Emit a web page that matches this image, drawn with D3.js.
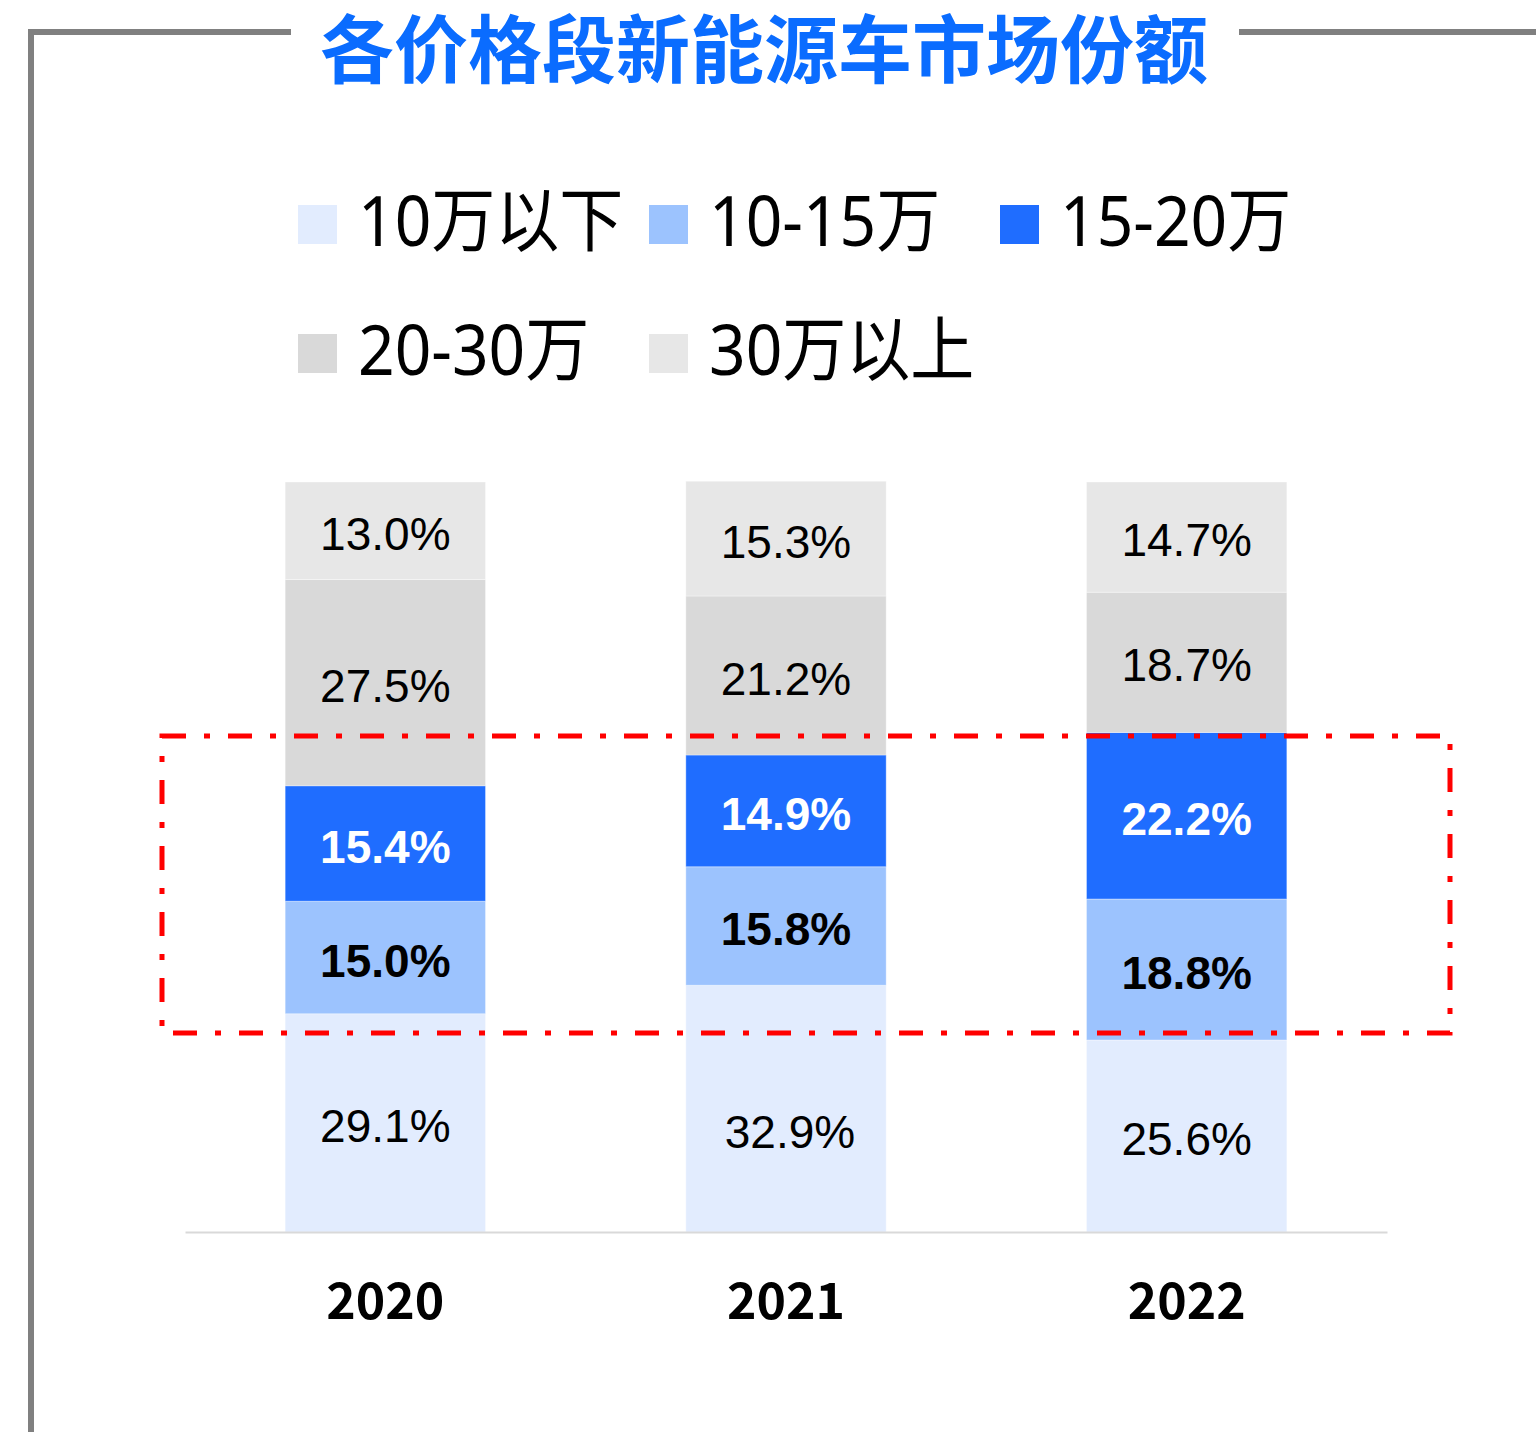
<!DOCTYPE html>
<html><head><meta charset="utf-8">
<script src="https://cdn.jsdelivr.net/npm/d3@7"></script>
<style>html,body{margin:0;padding:0;background:#fff;}svg{display:block;}</style>
</head><body>
<script>
const title = "各价格段新能源车市场份额";
const years = ["2020", "2021", "2022"];
const segments = ["10万以下", "10-15万", "15-20万", "20-30万", "30万以上"];
const share_below10 = [29.1, 32.9, 25.6];
const share_10to15 = [15.0, 15.8, 18.8];
const share_15to20 = [15.4, 14.9, 22.2];
const share_20to30 = [27.5, 21.2, 18.7];
const share_above30 = [13.0, 15.3, 14.7];
const colors = ["#e2ecfe", "#9cc3fe", "#1f6dff", "#d9d9d9", "#e7e7e7"];
const labelColors = ["#000", "#000", "#fff", "#000", "#000"];
const labelWeights = ["normal", "bold", "bold", "normal", "normal"];

const W = 1536, H = 1432;
const seriesArrays = [share_below10, share_10to15, share_15to20, share_20to30, share_above30];
const rows = years.map((y, i) => {
  const r = {year: y};
  segments.forEach((s, k) => r[s] = seriesArrays[k][i]);
  return r;
});

const svg = d3.select("body").append("svg").attr("width", W).attr("height", H);

// frame
svg.append("path").attr("d", "M291,32H31V1432").attr("fill", "none")
  .attr("stroke", "#808080").attr("stroke-width", 6);
svg.append("path").attr("d", "M1239,32H1536").attr("fill", "none")
  .attr("stroke", "#808080").attr("stroke-width", 6);

// title
svg.append("text").attr("x", 764).attr("y", 77)
  .attr("text-anchor", "middle")
  .attr("font-family", "'Noto Sans CJK SC'").attr("font-weight", 700)
  .attr("font-size", 74).attr("fill", "#0a6cff").text(title);

// legend
const colW = 351, legX0 = 298, legY0 = 205, rowH = 129, sw = 39;
segments.forEach((s, k) => {
  const col = k % 3, row = Math.floor(k / 3);
  const g = svg.append("g").attr("transform", `translate(${legX0 + col * colW},${legY0 + row * rowH})`);
  g.append("rect").attr("width", sw).attr("height", sw).attr("fill", colors[k]);
  g.append("text").attr("transform", `translate(60,41) scale(0.915,1)`)
    .attr("font-family", "'Noto Sans', 'Noto Sans CJK SC'").attr("font-size", 70)
    .attr("fill", "#000").text(s);
});

// scales
const x = d3.scaleBand().domain(years).range([185, 1387]).paddingInner(0.5).paddingOuter(0.25);
const y = d3.scaleLinear().domain([0, 100]).range([1232, 482]);

const stack = d3.stack().keys(segments)(rows);

const layers = svg.append("g").selectAll("g").data(stack).join("g")
  .attr("fill", (d, k) => colors[k]);
layers.selectAll("rect").data(d => d).join("rect")
  .attr("x", d => x(d.data.year))
  .attr("width", x.bandwidth())
  .attr("y", d => y(d[1]))
  .attr("height", d => y(d[0]) - y(d[1]))
  .attr("stroke", "#ffffff").attr("stroke-opacity", 0.35).attr("stroke-width", 1);

// axis
const axisG = svg.append("g").attr("transform", `translate(0,${y(0)})`)
  .call(d3.axisBottom(x).tickSize(0).tickPadding(0));
axisG.select(".domain").attr("stroke", "#d9d9d9").attr("stroke-width", 2);
axisG.selectAll(".tick text").attr("y", 87).attr("dy", null)
  .attr("font-family", "'Noto Sans CJK SC'").attr("font-weight", 700)
  .attr("font-size", 50).attr("fill", "#000");

// value labels (small manual nudge for one label as in the original)
const nudge = (k, i) => (k === 0 && i === 1) ? [4, 20] : [0, 0];
stack.forEach((layer, k) => {
  svg.append("g").selectAll("text").data(layer).join("text")
    .attr("x", (d, i) => x(d.data.year) + x.bandwidth() / 2 + nudge(k, i)[0])
    .attr("y", (d, i) => (y(d[0]) + y(d[1])) / 2 + 3 + nudge(k, i)[1])
    .attr("text-anchor", "middle").attr("dominant-baseline", "central")
    .attr("font-family", "'Liberation Sans', Arial, sans-serif")
    .attr("font-size", 46).attr("font-weight", labelWeights[k])
    .attr("fill", labelColors[k])
    .text(d => (d[1] - d[0]).toFixed(1) + "%");
});

// highlight box (red dash-dot)
svg.append("rect").attr("x", 162).attr("y", 736).attr("width", 1288).attr("height", 297)
  .attr("fill", "none").attr("stroke", "#ff0000").attr("stroke-width", 5)
  .attr("stroke-dasharray", "24,18,6,18");
</script>
</body></html>
